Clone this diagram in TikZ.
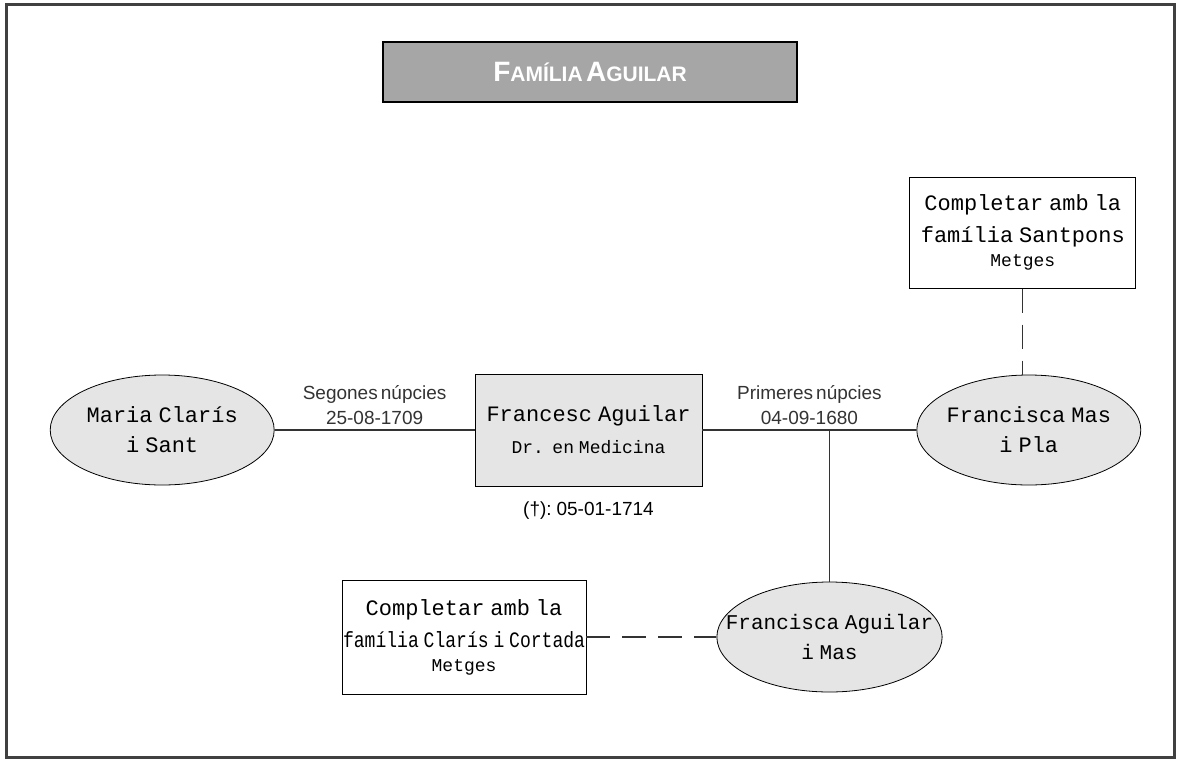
\documentclass[tikz,border=0pt]{standalone}
\usepackage{fontspec}
\setmainfont{Liberation Sans}[WordSpace=0.6]
\newfontfamily\namefont{Liberation Mono}[WordSpace=0.45]
\newfontfamily\narrowfont{Liberation Mono}[WordSpace=0.45,FakeStretch=0.82]
\usetikzlibrary{positioning,shapes.geometric}
\definecolor{lightgr}{gray}{0.9}
\definecolor{titlegr}{gray}{0.65}

\begin{document}
\begin{tikzpicture}[x=0.5pt, y=-0.5pt,
  person/.style={draw, ellipse, fill=lightgr, minimum width=112pt, minimum height=55pt, inner xsep=-12pt, inner ysep=0pt, align=center, font=\namefont\fontsize{11}{15}\selectfont},
  mainbox/.style={draw, fill=lightgr, minimum width=113.5pt, minimum height=56pt, inner sep=0pt, align=center, font=\namefont\fontsize{11}{15}\selectfont},
  notebox/.style={draw, fill=white, minimum width=113pt, minimum height=55.5pt, inner sep=0pt, align=center, font=\namefont\fontsize{11}{16}\selectfont},
  titlebox/.style={draw, line width=1.4pt, fill=titlegr, text=white, minimum width=207pt, minimum height=30pt, font=\bfseries},
  wedlabel/.style={above, align=center, inner sep=2.5pt, font=\fontsize{9.5}{12.5}\selectfont},
  link/.style={draw, line width=0.6pt, black!80},
  kin/.style={link, dash pattern=on 12pt off 6pt}]
\useasboundingbox (0,0) rectangle (1177,760);
\draw[line width=1.5pt, black!75] (6,4) rectangle (1174,757);
% title
\node[titlebox] (ti) at (590,72) {{\fontsize{14}{16}\selectfont F}{\fontsize{10.5}{12}\selectfont AMÍLIA} {\fontsize{14}{16}\selectfont A}{\fontsize{10.5}{12}\selectfont GUILAR}};
% main row
\node[mainbox] (fr) at (588.5,430) {Francesc Aguilar\\[1pt]{\fontsize{9}{10}\selectfont Dr. en Medicina}};
\node[person, left=100pt of fr] (ma) {Maria Clarís\\i Sant};
\node[person, right=107pt of fr] (fm) {Francisca Mas\\i Pla};
\node[below=4pt of fr, font=\fontsize{9.5}{12}\selectfont] (dth) {(†): 05-01-1714};
% notes and child
\node[notebox, above=43pt of fm, xshift=-3pt] (sp) {Completar amb la\\família Santpons\\[-4pt]{\fontsize{9}{10}\selectfont Metges}};
\node[person, font=\namefont\fontsize{10.5}{15}\selectfont] (fa) at (829.5,637) {Francisca Aguilar\\i Mas};
\node[notebox, left=65pt of fa, minimum width=122pt, minimum height=57pt] (cl) {Completar amb la\\{\narrowfont família Clarís i Cortada}\\[-4pt]{\fontsize{9}{10}\selectfont Metges}};
\coordinate (kids) at (fr.east -| fa.north);
% connectors
\draw[link] (ma) -- node[wedlabel] (sn) {Segones núpcies\\25-08-1709} (fr);
\draw[link] (fr) -- node[wedlabel] (pn) {Primeres núpcies\\04-09-1680} (fm);
\draw[link] (kids) -- (fa.north);
\draw[kin] (sp.south) -- (sp.south |- fm.north);
\draw[kin] (cl) -- (fa);
\end{tikzpicture}
\end{document}
